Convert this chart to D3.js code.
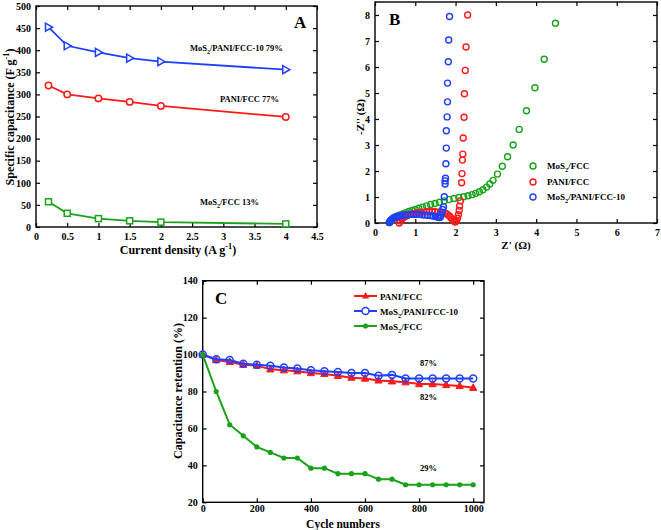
<!DOCTYPE html>
<html><head><meta charset="utf-8">
<script src="https://cdn.jsdelivr.net/npm/d3@7"></script>
<style>
body{margin:0;background:#fff}
text{font-family:"Liberation Serif","Times New Roman",serif;font-weight:bold;fill:#000}
</style></head>
<body><svg id="chart" width="661" height="530"></svg>
<script>
// ---------- Panel A data ----------
const aCurrent = [0.2, 0.5, 1, 1.5, 2, 4];
const aComposite = [452, 410, 395, 382, 374, 356];   // MoS2/PANI/FCC-10
const aPani = [320, 300, 291, 283, 274, 249];        // PANI/FCC
const aMos2 = [57, 31, 19, 14, 11, 7];               // MoS2/FCC
const aXTicks = [0, 0.5, 1, 1.5, 2, 2.5, 3, 3.5, 4, 4.5];
const aYTicks = [0, 50, 100, 150, 200, 250, 300, 350, 400, 450, 500];

// ---------- Panel B data (Nyquist) ----------
const bMos2Re = [0.37,0.39,0.41,0.44,0.48,0.53,0.58,0.64,0.70,0.77,0.84,0.92,1.00,1.09,1.18,1.28,1.38,1.49,1.60,1.72,1.84,1.96,2.08,2.20,2.31,2.41,2.50,2.59,2.68,2.77,2.85,2.93,3.04,3.16,3.29,3.43,3.58,3.76,3.97,4.20,4.48];
const bMos2Im = [0.02,0.07,0.12,0.17,0.21,0.25,0.28,0.32,0.36,0.40,0.44,0.48,0.52,0.57,0.61,0.66,0.71,0.75,0.80,0.85,0.90,0.94,0.98,1.01,1.05,1.09,1.14,1.20,1.28,1.38,1.50,1.64,1.88,2.18,2.55,3.00,3.60,4.32,5.20,6.30,7.68];
const bPaniRe = [0.60,0.63,0.67,0.71,0.76,0.81,0.87,0.93,1.00,1.07,1.14,1.21,1.28,1.35,1.42,1.49,1.56,1.62,1.68,1.74,1.79,1.84,1.88,1.92,1.96,1.99,2.02,2.05,2.07,2.09,2.10,2.12,2.15,2.16,2.17,2.18,2.19,2.21,2.22,2.24,2.26,2.30];
const bPaniIm = [0.00,0.08,0.15,0.21,0.26,0.30,0.33,0.36,0.38,0.40,0.41,0.42,0.43,0.43,0.43,0.43,0.42,0.41,0.40,0.38,0.34,0.28,0.21,0.14,0.08,0.04,0.08,0.18,0.32,0.48,0.65,0.85,1.55,1.90,2.42,2.65,3.27,4.07,4.97,5.87,6.77,8.00];
const bCompRe = [0.35,0.37,0.39,0.42,0.45,0.49,0.53,0.58,0.63,0.69,0.75,0.82,0.89,0.96,1.03,1.10,1.17,1.24,1.31,1.38,1.44,1.50,1.55,1.59,1.62,1.64,1.66,1.68,1.70,1.72,1.74,1.74,1.75,1.76,1.77,1.77,1.79,1.80,1.80,1.82,1.83,1.85];
const bCompIm = [0.02,0.06,0.10,0.14,0.18,0.21,0.24,0.26,0.28,0.30,0.31,0.32,0.33,0.33,0.33,0.33,0.32,0.31,0.30,0.29,0.27,0.25,0.23,0.21,0.22,0.30,0.42,0.52,0.62,1.01,1.50,1.62,1.72,2.28,2.88,3.55,4.08,4.66,5.38,6.20,7.04,7.94];
const bXTicks = [0, 1, 2, 3, 4, 5, 6, 7];
const bYTicks = [0, 1, 2, 3, 4, 5, 6, 7, 8];

// ---------- Panel C data ----------
const cCycles = [0,50,100,150,200,250,300,350,400,450,500,550,600,650,700,750,800,850,900,950,1000];
const cPani = [100,97,96,94.5,94,92,91.5,91,90,89.5,88.5,87.5,87,86,85.5,85,84,84,83.5,83,82];
const cComposite = [100,97.5,97,95,94.5,94,93,92.5,91.5,91,90.5,90,90,88.5,89,87,87,87,87,87,87];
const cMos2 = [100,80,62,56,50,47,44,44,38.5,38.5,35.5,35.5,35.5,32.5,32.5,29.5,29.5,29.5,29.5,29.5,29.5];
const cXTicks = [0, 200, 400, 600, 800, 1000];
const cYTicks = [20, 40, 60, 80, 100, 120, 140];

const BLUE = "#1f3fff", RED = "#ff1a1a", GREEN = "#1aa31a";

const svg = d3.select("#chart");

function rich(sel, parts, fs) {
  let shift = 0;
  parts.forEach(([t, m]) => {
    const target = m === 'sub' ? 3 : m === 'sup' ? -5 : 0;
    const ts = sel.append("tspan").text(t).attr("dy", target - shift);
    if (m) ts.attr("font-size", fs * 0.7);
    shift = target;
  });
}

function frame(g, x, y, xt, yt, xpad) {
  const [x0, x1] = x.range(), [y0, y1] = y.range();
  const tk = 4;
  g.append("g").attr("transform", `translate(0,${y0})`)
    .call(d3.axisBottom(x).tickValues(xt).tickSizeInner(-tk).tickSizeOuter(0).tickPadding(xpad).tickFormat(d => String(d)))
    .call(s => s.select(".domain").remove());
  g.append("g").attr("transform", `translate(0,${y1})`)
    .call(d3.axisTop(x).tickValues(xt).tickSizeInner(-tk).tickSizeOuter(0).tickFormat(""))
    .call(s => s.select(".domain").remove());
  g.append("g").attr("transform", `translate(${x0},0)`)
    .call(d3.axisLeft(y).tickValues(yt).tickSizeInner(-tk).tickSizeOuter(0).tickPadding(5).tickFormat(d => String(d)))
    .call(s => s.select(".domain").remove());
  g.append("g").attr("transform", `translate(${x1},0)`)
    .call(d3.axisRight(y).tickValues(yt).tickSizeInner(-tk).tickSizeOuter(0).tickFormat(""))
    .call(s => s.select(".domain").remove());
  g.selectAll(".tick text").attr("font-size", 10).attr("font-family", '"Liberation Serif",serif').attr("font-weight", "bold");
  g.selectAll(".tick line").attr("stroke-width", 1.2);
  g.append("rect").attr("x", x0).attr("y", y1).attr("width", x1 - x0).attr("height", y0 - y1)
    .attr("fill", "none").attr("stroke", "#000").attr("stroke-width", 1.4);
}

// ================= Panel A =================
{
  const g = svg.append("g");
  const x = d3.scaleLinear().domain([0, 4.5]).range([36, 317]);
  const y = d3.scaleLinear().domain([0, 500]).range([227, 6]);
  frame(g, x, y, aXTicks, aYTicks, 6);
  const line = d3.line().x((d, i) => x(aCurrent[i])).y(d => y(d));
  const series = [
    {v: aComposite, c: BLUE, m: "tri"},
    {v: aPani, c: RED, m: "circ"},
    {v: aMos2, c: GREEN, m: "sq"}
  ];
  series.forEach(s => {
    g.append("path").attr("d", line(s.v)).attr("fill", "none").attr("stroke", s.c).attr("stroke-width", 1.8);
    const mk = g.append("g").selectAll("x").data(s.v).enter();
    if (s.m === "circ") {
      mk.append("circle").attr("cx", (d, i) => x(aCurrent[i])).attr("cy", d => y(d)).attr("r", 3.2)
        .attr("fill", "#fff").attr("stroke", s.c).attr("stroke-width", 1.5);
    } else if (s.m === "sq") {
      mk.append("rect").attr("x", (d, i) => x(aCurrent[i]) - 3).attr("y", d => y(d) - 3).attr("width", 6).attr("height", 6)
        .attr("fill", "#fff").attr("stroke", s.c).attr("stroke-width", 1.5);
    } else {
      mk.append("path").attr("d", "M-3,-4L4,0L-3,4Z").attr("transform", (d, i) => `translate(${x(aCurrent[i])},${y(d)})`)
        .attr("fill", "#fff").attr("stroke", s.c).attr("stroke-width", 1.5);
    }
  });
  rich(g.append("text").attr("x", 190).attr("y", 51).attr("font-size", 8.5), [["MoS", null], ["2", "sub"], ["/PANI/FCC-10 79%", null]], 8.5);
  g.append("text").attr("x", 220).attr("y", 102).attr("font-size", 8.5).text("PANI/FCC 77%");
  rich(g.append("text").attr("x", 200).attr("y", 205).attr("font-size", 8.5), [["MoS", null], ["2", "sub"], ["/FCC 13%", null]], 8.5);
  g.append("text").attr("x", 294).attr("y", 28).attr("font-size", 17).text("A");
  rich(g.append("text").attr("x", 178).attr("y", 254).attr("text-anchor", "middle").attr("font-size", 12),
    [["Current density (A g", null], ["-1", "sup"], [")", null]], 12);
  rich(g.append("text").attr("transform", "translate(14,117) rotate(-90)").attr("text-anchor", "middle").attr("font-size", 12),
    [["Specific capacitance (F g", null], ["-1", "sup"], [")", null]], 12);
}

// ================= Panel B =================
{
  const g = svg.append("g");
  const x = d3.scaleLinear().domain([0, 7]).range([375, 657]);
  const y = d3.scaleLinear().domain([0, 8.5]).range([223, 2]);
  frame(g, x, y, bXTicks, bYTicks, 6);
  const series = [
    {re: bMos2Re, im: bMos2Im, c: GREEN},
    {re: bPaniRe, im: bPaniIm, c: RED},
    {re: bCompRe, im: bCompIm, c: BLUE}
  ];
  series.forEach(s => {
    g.append("g").selectAll("circle").data(s.re).enter().append("circle")
      .attr("cx", d => x(d)).attr("cy", (d, i) => y(s.im[i])).attr("r", 3)
      .attr("fill", "none").attr("stroke", s.c).attr("stroke-width", 1.4);
  });
  const leg = [
    {c: GREEN, p: [["MoS", null], ["2", "sub"], ["/FCC", null]], y: 166},
    {c: RED, p: [["PANI/FCC", null]], y: 182},
    {c: BLUE, p: [["MoS", null], ["2", "sub"], ["/PANI/FCC-10", null]], y: 197}
  ];
  leg.forEach(l => {
    g.append("circle").attr("cx", 533).attr("cy", l.y).attr("r", 3).attr("fill", "none").attr("stroke", l.c).attr("stroke-width", 1.4);
    rich(g.append("text").attr("x", 547).attr("y", l.y + 3).attr("font-size", 9), l.p, 9);
  });
  g.append("text").attr("x", 389).attr("y", 25).attr("font-size", 17).text("B");
  g.append("text").attr("x", 516).attr("y", 249).attr("text-anchor", "middle").attr("font-size", 11).text("Z' (\u03A9)");
  g.append("text").attr("transform", "translate(364,117) rotate(-90)").attr("text-anchor", "middle").attr("font-size", 11).text("-Z'' (\u03A9)");
}

// ================= Panel C =================
{
  const g = svg.append("g");
  const x = d3.scaleLinear().domain([0, 1040]).range([202.7, 484]);
  const y = d3.scaleLinear().domain([20, 140]).range([502.3, 280.7]);
  frame(g, x, y, cXTicks, cYTicks, 3);
  const line = v => d3.line().x((d, i) => x(cCycles[i])).y(d => y(d))(v);
  const tri = "M0,-4L3.6,2.6L-3.6,2.6Z";
  g.append("path").attr("d", line(cPani)).attr("fill", "none").attr("stroke", RED).attr("stroke-width", 2);
  g.append("g").selectAll("path").data(cPani).enter().append("path").attr("d", tri)
    .attr("transform", (d, i) => `translate(${x(cCycles[i])},${y(d)})`)
    .attr("fill", RED).attr("stroke", RED).attr("stroke-width", 1);
  g.append("path").attr("d", line(cComposite)).attr("fill", "none").attr("stroke", BLUE).attr("stroke-width", 2);
  g.append("g").selectAll("circle").data(cComposite).enter().append("circle")
    .attr("cx", (d, i) => x(cCycles[i])).attr("cy", d => y(d)).attr("r", 3.5)
    .attr("fill", "none").attr("stroke", BLUE).attr("stroke-width", 1.5);
  g.append("path").attr("d", line(cMos2)).attr("fill", "none").attr("stroke", GREEN).attr("stroke-width", 2);
  g.append("g").selectAll("circle").data(cMos2).enter().append("circle")
    .attr("cx", (d, i) => x(cCycles[i])).attr("cy", d => y(d)).attr("r", 2.6).attr("fill", GREEN);

  const lx0 = 354, lx1 = 377, lxm = 365.5;
  g.append("line").attr("x1", lx0).attr("x2", lx1).attr("y1", 296).attr("y2", 296).attr("stroke", RED).attr("stroke-width", 2);
  g.append("path").attr("d", tri).attr("transform", `translate(${lxm},296)`).attr("fill", RED);
  g.append("text").attr("x", 380).attr("y", 299.5).attr("font-size", 9).text("PANI/FCC");
  g.append("line").attr("x1", lx0).attr("x2", lx1).attr("y1", 311).attr("y2", 311).attr("stroke", BLUE).attr("stroke-width", 2);
  g.append("circle").attr("cx", lxm).attr("cy", 311).attr("r", 3.5).attr("fill", "#fff").attr("stroke", BLUE).attr("stroke-width", 1.5);
  rich(g.append("text").attr("x", 380).attr("y", 314.5).attr("font-size", 9), [["MoS", null], ["2", "sub"], ["/PANI/FCC-10", null]], 9);
  g.append("line").attr("x1", lx0).attr("x2", lx1).attr("y1", 326).attr("y2", 326).attr("stroke", GREEN).attr("stroke-width", 2);
  g.append("circle").attr("cx", lxm).attr("cy", 326).attr("r", 2.6).attr("fill", GREEN);
  rich(g.append("text").attr("x", 380).attr("y", 329.5).attr("font-size", 9), [["MoS", null], ["2", "sub"], ["/FCC", null]], 9);

  g.append("text").attr("x", 420).attr("y", 366).attr("font-size", 8.5).text("87%");
  g.append("text").attr("x", 420).attr("y", 400).attr("font-size", 8.5).text("82%");
  g.append("text").attr("x", 420).attr("y", 471).attr("font-size", 8.5).text("29%");
  g.append("text").attr("x", 215).attr("y", 304).attr("font-size", 17).text("C");
  g.append("text").attr("x", 343).attr("y", 528).attr("text-anchor", "middle").attr("font-size", 11.5).text("Cycle numbers");
  g.append("text").attr("transform", "translate(182,391) rotate(-90)").attr("text-anchor", "middle").attr("font-size", 12).text("Capacitance retention (%)");
}
</script></body></html>
